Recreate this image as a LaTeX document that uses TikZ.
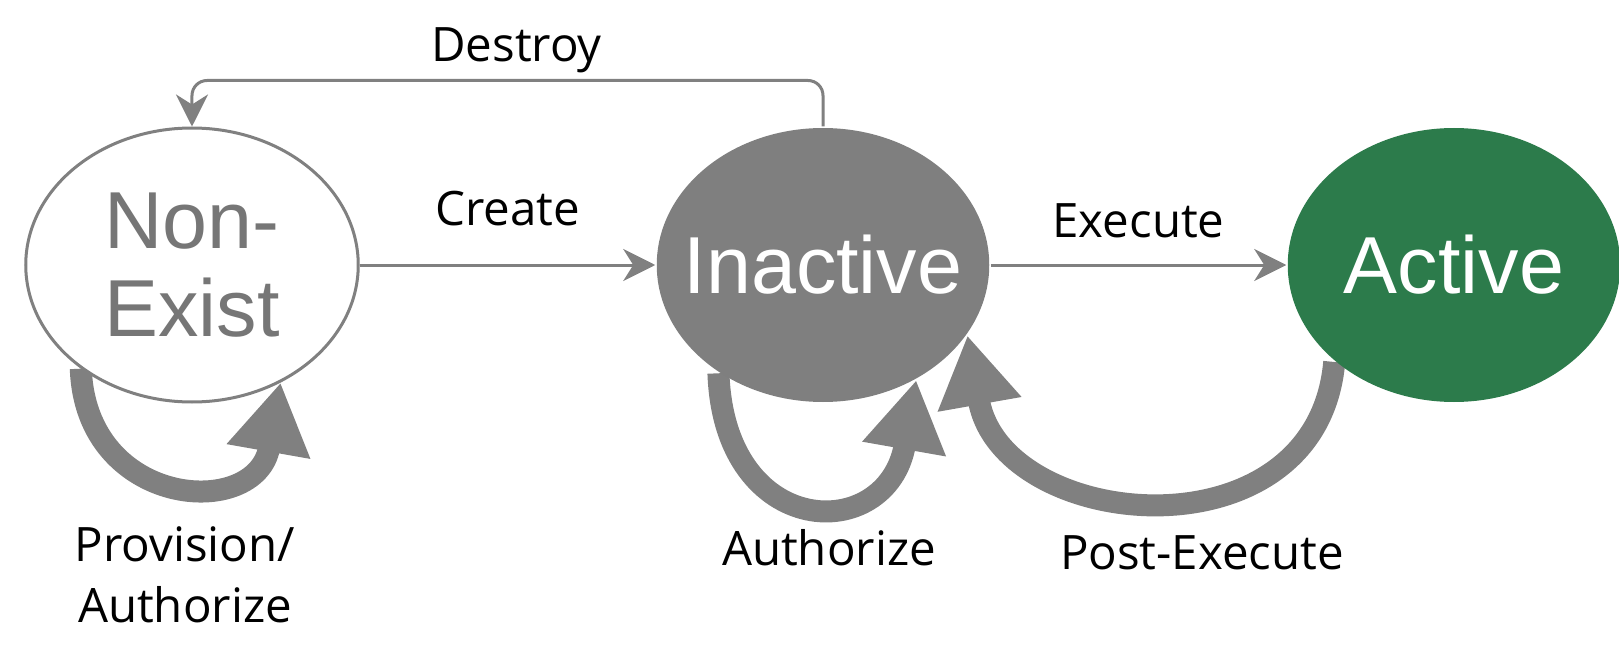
\documentclass[tikz,border=0pt]{standalone}
\usepackage{fontspec}
\setmainfont{Open Sans}
\newfontfamily\statefont{Liberation Sans}
\usetikzlibrary{arrows.meta,backgrounds,shapes.geometric}

\definecolor{arrowgray}{HTML}{808080}
\definecolor{stategray}{HTML}{7F7F7F}
\definecolor{activegreen}{HTML}{2C7B4B}
\definecolor{textgray}{HTML}{767676}

\begin{document}
\begin{tikzpicture}[node distance=12.62cm,>={Stealth[length=0.64cm,width=0.64cm,inset=0.2cm]},
    statenode/.style={ellipse, minimum width=6.65cm, minimum height=5.48cm, inner sep=-0.6cm,
        line width=0.06cm, align=center, font=\statefont\fontsize{46}{50}\selectfont},
    lbl/.style={inner sep=0pt, text=black, font=\fontsize{27}{34.6}\selectfont},
    thinarrow/.style={draw=arrowgray, line width=0.06cm},
    bigarrow/.style={draw=arrowgray, line width=0.44cm, -{Triangle[length=1.4cm,width=1.6cm]}}]
        \useasboundingbox (-3.84,-7.86) rectangle (28.54,5.3);

        \node (nonexist) [statenode, draw=arrowgray, fill=white, text=textgray] {Non-\\Exist};
        \node (inactive) [statenode, right of=nonexist, fill=stategray, text=white] {Inactive};
        \node (active) [statenode, right of=inactive, fill=activegreen, text=white] {Active};

        \draw[->, thinarrow] (nonexist) -- node[lbl, above=0.76cm] {Create} (inactive);
        \draw[->, thinarrow] (inactive) -- node[lbl, above=0.52cm] {Execute} (active);
        \draw[->, thinarrow, rounded corners=0.3cm] (inactive.north) -- ++(0,0.92)
            -| node[lbl, pos=0.25, above=0.13cm, xshift=0.18cm] {Destroy} (nonexist.north);

        % thick loops sit behind the states
        \begin{scope}[on background layer]
        \draw[bigarrow] (nonexist.223) .. controls +(-88:2.8) and +(-100:2.8) .. (nonexist.307);
        \draw[bigarrow] (inactive.226) .. controls +(-88:3.35) and +(-100:3.35) .. (inactive.309);
        \draw[bigarrow] (active.219) .. controls +(-95:4) and +(-80:4) .. (inactive.334);
        \end{scope}

        \node (provision) [lbl, align=center, node distance=6.2cm, below of=nonexist, xshift=-0.14cm] {Provision/\\Authorize};
        \node (authorize) [lbl, node distance=5.66cm, below of=inactive, xshift=0.12cm] {Authorize};
        \node (postexec) [lbl, node distance=5.76cm, below of=active, xshift=-5.04cm] {Post-Execute};
    \end{tikzpicture}
\end{document}
